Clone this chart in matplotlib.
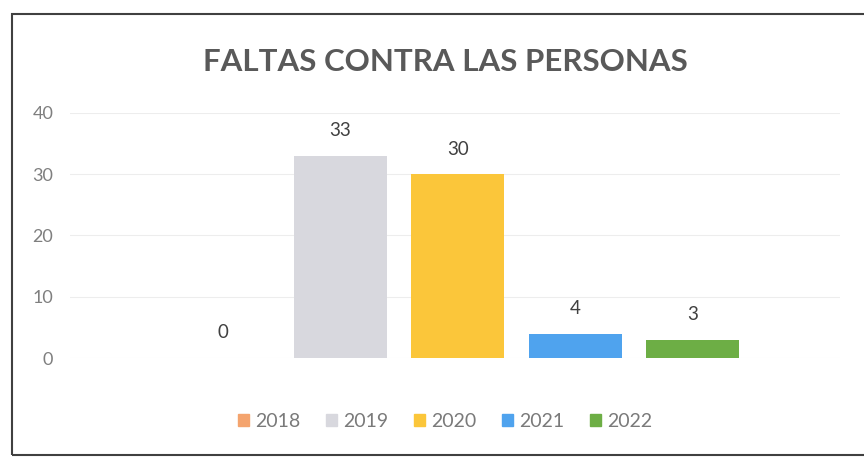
import matplotlib.pyplot as plt
from matplotlib.patches import Rectangle

plt.rcParams['font.family'] = ['Lato', 'DejaVu Sans']

# data
years = ['2018', '2019', '2020', '2021', '2022']
values = [0, 33, 30, 4, 3]
colors = ['#F4A46E', '#D8D8DE', '#FBC63A', '#4FA3EE', '#6DAE45']
yTicks = [0, 10, 20, 30, 40]

fig = plt.figure(figsize=(8.64, 4.59), dpi=100)
ax = fig.add_axes([0.081, 0.220, 0.891, 0.534])

positions = [i - 2 for i in range(len(years))]
bars = ax.bar(positions, values, width=0.79, color=colors, label=years, zorder=3)

# data labels
for rect, val in zip(bars, values):
    ax.annotate(str(val), (rect.get_x() + rect.get_width() / 2, rect.get_height()),
                xytext=(0, 12), textcoords='offset points', ha='center', va='bottom',
                fontsize=13.5, color='#404040')

ax.set_xlim(-3.3, 3.25)
ax.set_ylim(0, 40)
ax.set_yticks(yTicks)
ax.set_xticks([])
ax.tick_params(axis='y', length=0, labelsize=13, labelcolor='#7F7F7F', pad=12)
ax.grid(axis='y', color='#EDEDED', linewidth=0.8, zorder=0)
for side in ax.spines.values():
    side.set_visible(False)

fig.text(0.515, 0.865, 'FALTAS CONTRA LAS PERSONAS', ha='center', va='center',
         fontsize=22.5, fontweight='bold', color='#595959')

handles = [Rectangle((0, 0), 1, 1, color=c) for c in colors]
fig.legend(handles, years, loc='center', bbox_to_anchor=(0.515, 0.082), ncol=5,
           frameon=False, fontsize=14, labelcolor='#7A7A7A',
           handlelength=0.6, handleheight=0.6, handletextpad=0.3, columnspacing=1.3)

# chart border
fig.add_artist(Rectangle((0.014, 0.008), 1.0, 0.962, transform=fig.transFigure,
                         fill=False, edgecolor='#404040', linewidth=1.5))

fig.savefig('out.png', dpi=100)
